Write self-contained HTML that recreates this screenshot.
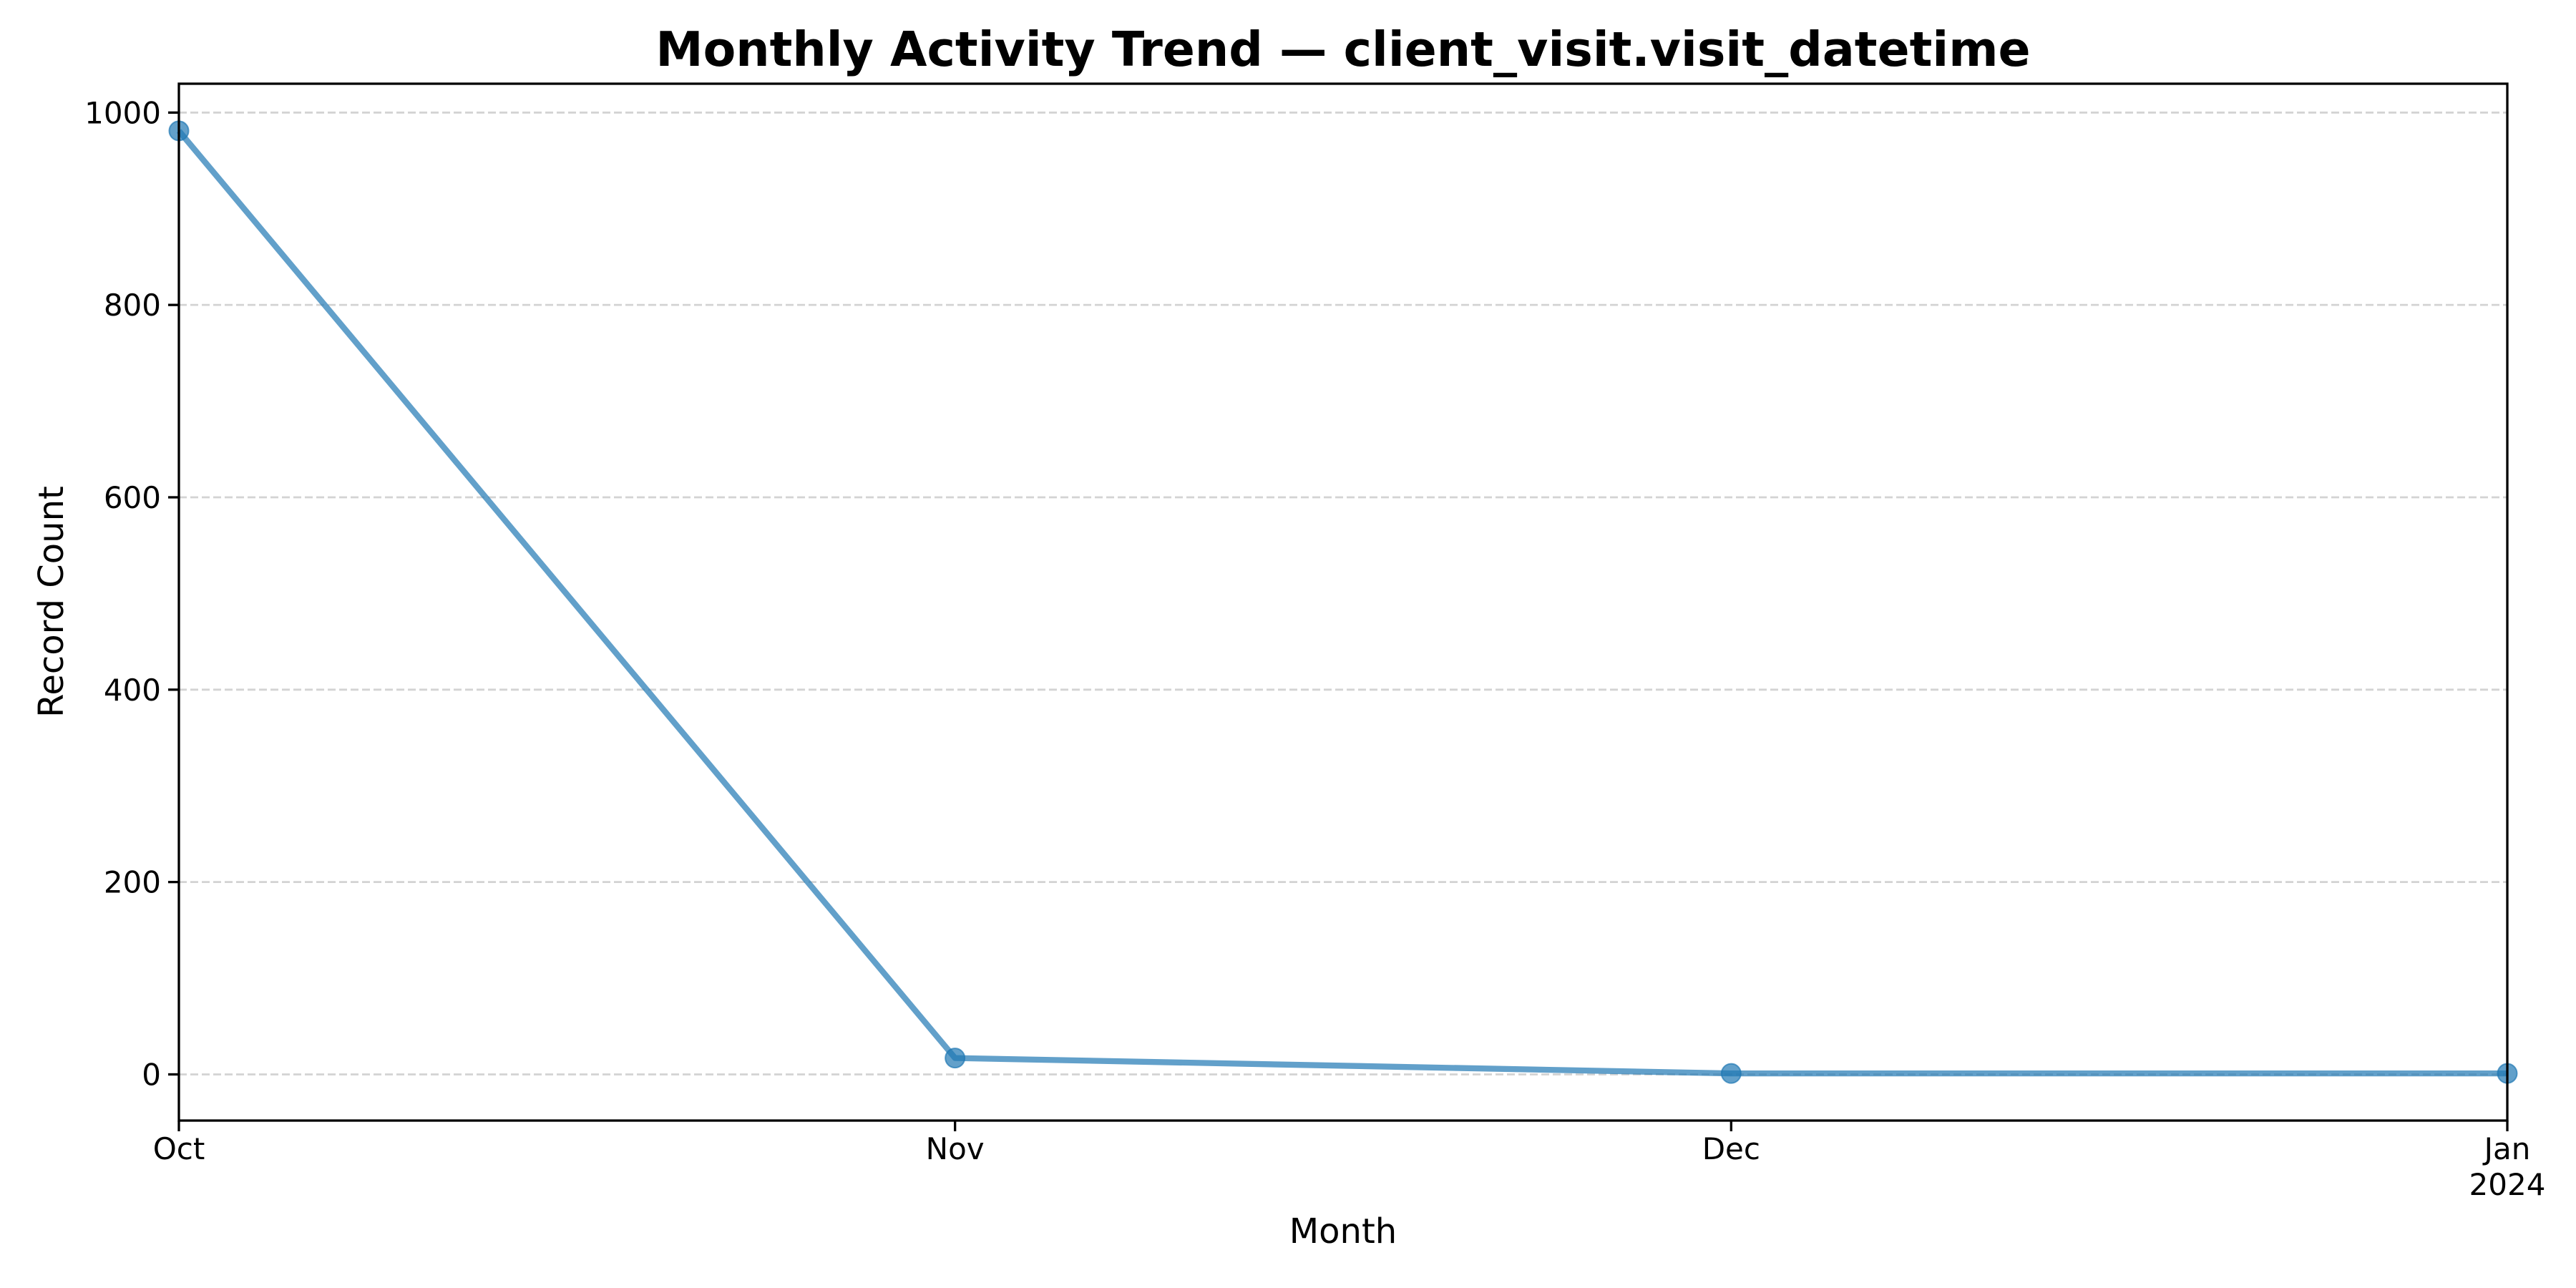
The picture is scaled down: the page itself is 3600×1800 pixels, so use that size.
<!DOCTYPE html>
<html><head><meta charset="utf-8"><style>
html,body{margin:0;padding:0;background:#fff}
svg{display:block;font-family:"DejaVu Sans","Liberation Sans",sans-serif}
</style></head><body>
<svg id="chart" width="3600" height="1800" viewBox="0 0 3600 1800">
<rect width="3600" height="1800" fill="#fff"/>
<g id="grid"></g>
<g id="series"></g>
<rect x="250" y="117" width="3254" height="1449" fill="none" stroke="#000" stroke-width="3.3"/>
<g id="ticks"></g>
<text x="1877" y="92" text-anchor="middle" font-size="66.5" font-weight="bold">Monthly Activity Trend — client_visit.visit_datetime</text>
<text x="1877" y="1737" text-anchor="middle" font-size="48">Month</text>
<text transform="translate(88,841) rotate(-90)" text-anchor="middle" font-size="48">Record Count</text>
</svg>
<script>
const months = ["Oct","Nov","Dec","Jan"];
const monthSub = ["","","","2024"];
const counts = [981, 17, 1, 1];
const yTicks = [0, 200, 400, 600, 800, 1000];

const NS = "http://www.w3.org/2000/svg";
const L = 250, R = 3504, T = 117, B = 1566;
const ymin = -48, ymax = 1030;
function xs(i){ return L + (R - L) * i / (months.length - 1); }
function ys(v){ return B - (v - ymin) / (ymax - ymin) * (B - T); }
function mk(tag, attrs, parent){ const e = document.createElementNS(NS, tag); for (const k in attrs) e.setAttribute(k, attrs[k]); parent.appendChild(e); return e; }

const grid = document.getElementById('grid'), ticks = document.getElementById('ticks'), series = document.getElementById('series');
yTicks.forEach(v => {
  const y = ys(v);
  const g = mk('line', {x1: L, x2: R, y1: y, y2: y, stroke: '#d3d3d3', 'stroke-width': 2.8, 'stroke-dasharray': '11 5'}, grid);
  
  
  const t = mk('line', {x1: L - 15, x2: L, y1: y, y2: y, stroke: '#000', 'stroke-width': 3.3}, ticks);
  
  
  const lb = mk('text', {x: L - 25, y: y + 15, 'text-anchor': 'end', 'font-size': 42}, ticks);
  lb.textContent = v;
  
  
});
months.forEach((m, i) => {
  const x = xs(i);
  const t = mk('line', {x1: x, x2: x, y1: B, y2: B + 15, stroke: '#000', 'stroke-width': 3.3}, ticks);
  
  
  const lb = mk('text', {x: x, y: 1620, 'text-anchor': 'middle', 'font-size': 42}, ticks);
  lb.textContent = m;
  
  
  if (monthSub[i]) {
    const s = mk('text', {x: x, y: 1670, 'text-anchor': 'middle', 'font-size': 42}, ticks);
    s.textContent = monthSub[i];
    
    
  }
});
const pts = counts.map((v, i) => xs(i) + ',' + ys(v)).join(' ');
const line = mk('polyline', {points: pts, fill: 'none', stroke: '#1f77b4', 'stroke-opacity': 0.7, 'stroke-width': 8.3, 'stroke-linejoin': 'round'}, series);


counts.forEach((v, i) => {
  const c = mk('circle', {cx: xs(i), cy: ys(v), r: 13.5, fill: '#1f77b4', 'fill-opacity': 0.7, stroke: '#1f77b4', 'stroke-opacity': 0.7, 'stroke-width': 2}, series);
  
  
});
</script>
</body></html>
